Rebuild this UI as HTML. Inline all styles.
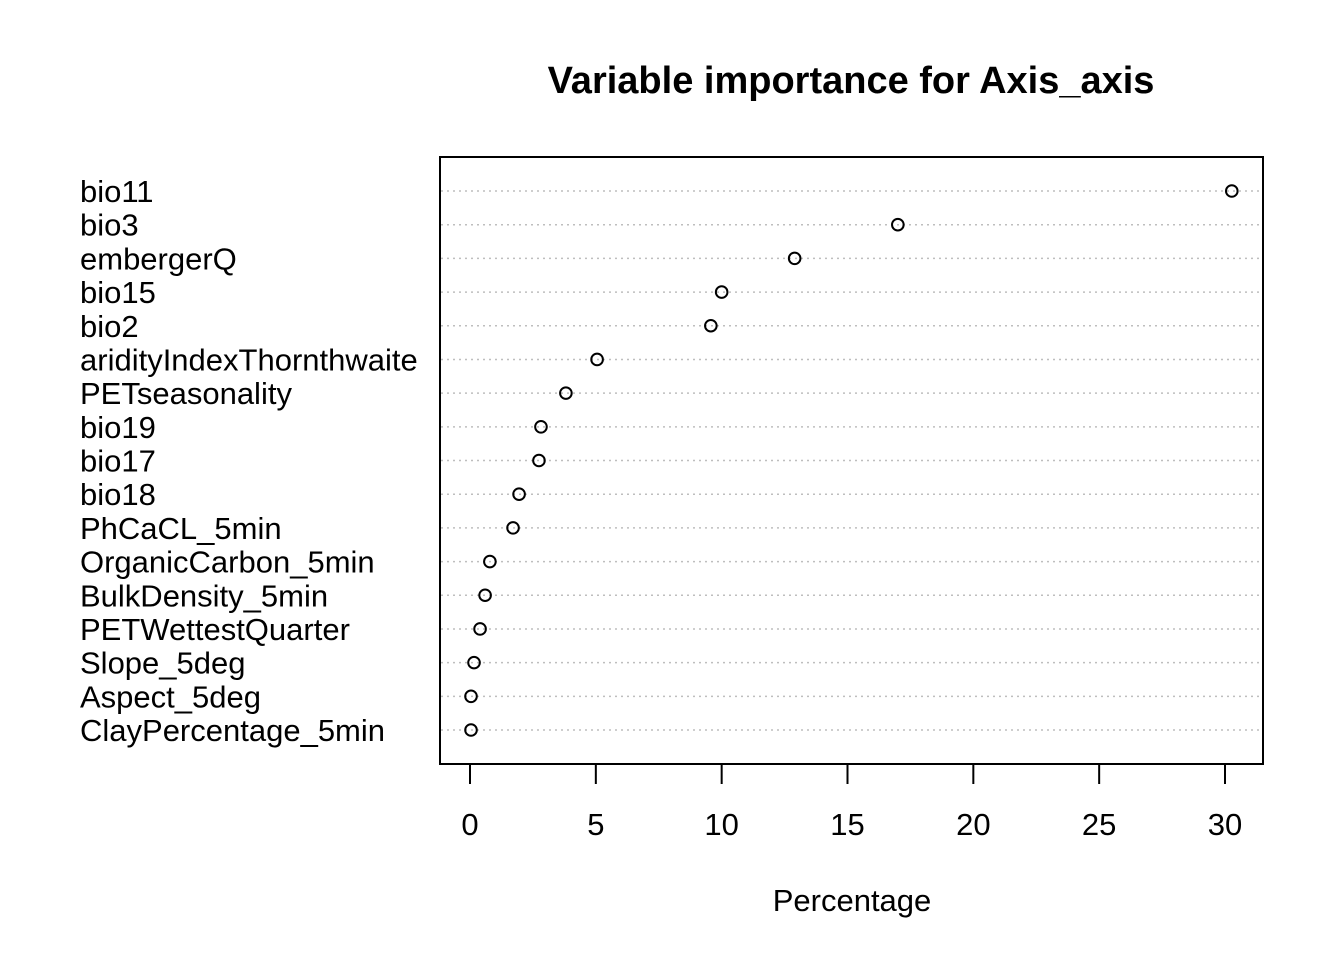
<!DOCTYPE html>
<html><head><meta charset="utf-8"><style>
html,body{margin:0;padding:0;background:#fff;}
svg{display:block;font-family:"Liberation Sans",Arial,sans-serif;}
</style></head><body>
<svg id="chart" width="1344" height="960">
<rect width="1344" height="960" fill="#fff"/>
<text x="851" y="93" text-anchor="middle" font-size="38" font-weight="bold">Variable importance for Axis_axis</text>
<rect x="440" y="157" width="823" height="607" fill="none" stroke="#000" stroke-width="2"/>
<text x="852" y="911" text-anchor="middle" font-size="31">Percentage</text>
<g id="grid"></g><g id="points"></g><g id="labels"></g><g id="xaxis"></g>
</svg>
<script>
const categories=["bio11","bio3","embergerQ","bio15","bio2","aridityIndexThornthwaite","PETseasonality","bio19","bio17","bio18","PhCaCL_5min","OrganicCarbon_5min","BulkDensity_5min","PETWettestQuarter","Slope_5deg","Aspect_5deg","ClayPercentage_5min"];
const values=[30.27,17.0,12.9,10.0,9.57,5.05,3.81,2.82,2.74,1.95,1.71,0.79,0.6,0.4,0.16,0.04,0.04];
const xTicks=[0,5,10,15,20,25,30];
const NS="http://www.w3.org/2000/svg";
const xs=v=>470+v*(1225-470)/30;
const ys=i=>191+i*(730-191)/(categories.length-1);
function mk(tag,attrs,parent,txt){const e=document.createElementNS(NS,tag);for(const k in attrs)e.setAttribute(k,attrs[k]);if(txt!==undefined)e.textContent=txt;document.getElementById(parent).appendChild(e);return e;}
categories.forEach((c,i)=>{
  const y=ys(i);
  const g=mk('line',{x1:441,x2:1262,y1:y,y2:y,stroke:'#bebebe','stroke-width':1.5,'stroke-dasharray':'2 4'},'grid');
  
  
  const p=mk('circle',{cx:xs(values[i]),cy:y,r:5.8,fill:'none',stroke:'#000','stroke-width':2},'points');
  
  
  const t=mk('text',{x:80,y:y+11,'font-size':31},'labels',c);
  
  
});
const ax=mk('line',{x1:xs(0),x2:xs(30),y1:764,y2:764,stroke:'#000','stroke-width':2},'xaxis');


xTicks.forEach(v=>{
  const l=mk('line',{x1:xs(v),x2:xs(v),y1:764,y2:784,stroke:'#000','stroke-width':2},'xaxis');
  
  
  const t=mk('text',{x:xs(v),y:835,'text-anchor':'middle','font-size':31},'xaxis',String(v));
  
  
});
</script>
</body></html>
